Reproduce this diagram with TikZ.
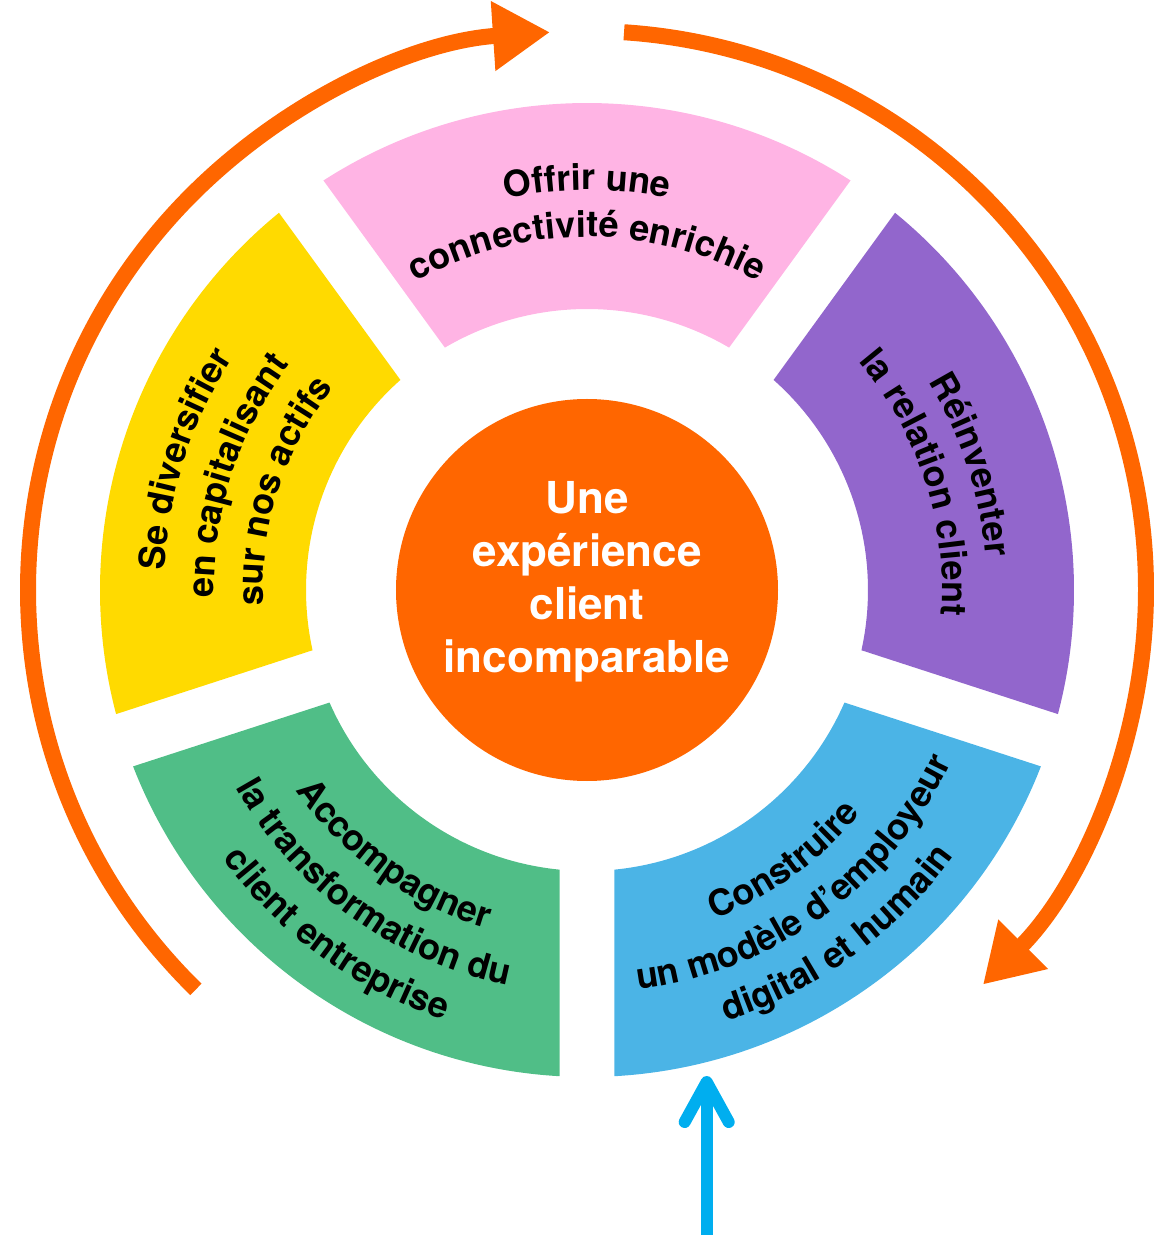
\documentclass[tikz,border=0pt]{standalone}
\usepackage{fontspec}
\setmainfont{TeX Gyre Heros}
\definecolor{brandorange}{RGB}{255,102,0}
\definecolor{segpink}{RGB}{255,180,228}
\definecolor{segpurple}{RGB}{146,102,204}
\definecolor{segblue}{RGB}{75,180,230}
\definecolor{seggreen}{RGB}{80,190,135}
\definecolor{segyellow}{RGB}{255,218,0}
\definecolor{entrycyan}{RGB}{0,174,239}
\usetikzlibrary{arrows.meta,decorations.text}
\newcommand{\segfont}{\fontsize{18}{21}\selectfont\bfseries}

\begin{document}
\begin{tikzpicture}[x=0.5pt, y=0.5pt,
    arctext/.style={decorate, decoration={text along path, text align=center, text={|\segfont|#1}}},
    cycle arrow/.style={draw=brandorange, line width=8pt, -{Triangle[length=28.5pt, width=33pt]}},
    entry arrow/.style={draw=entrycyan, line width=6pt, -{Straight Barb[length=20pt, width=22pt, round]}}]
    \useasboundingbox (-587,-645) rectangle (566,590);
    \pgfmathsetmacro\Ro{487}
    \pgfmathsetmacro\Ri{281}
    \pgfmathsetmacro\dR{asin(27.5/\Ro)}
    \pgfmathsetmacro\dr{asin(27.5/\Ri)}

    % five segments of the ring
    \foreach \c/\col in {90/segpink, 18/segpurple, 306/segblue, 234/seggreen, 162/segyellow}{
        \fill[\col] ({\c+36-\dR}:\Ro) arc[start angle=\c+36-\dR, end angle=\c-36+\dR, radius=\Ro]
            -- ({\c-36+\dr}:\Ri) arc[start angle=\c-36+\dr, end angle=\c+36-\dr, radius=\Ri] -- cycle;
    }

    % centre
    \node[circle, fill=brandorange, minimum size=191pt, inner sep=0pt] (core) at (0,0) {};
    \node[text=white, align=center, font=\fontsize{22}{26.5}\selectfont\bfseries, yshift=4pt]
        (corelabel) at (core.center) {Une\\expérience\\client\\incomparable};

    % texts on the ring
    \path[arctext={Offrir une}] (150:400) arc[start angle=150, end angle=30, radius=400];
    \path[arctext={connectivité enrichie}] (150:353) arc[start angle=150, end angle=30, radius=353];
    \path[arctext={Réinventer}] (78:400) arc[start angle=78, end angle=-42, radius=400];
    \path[arctext={la relation client}] (78:355) arc[start angle=78, end angle=-42, radius=355];
    \path[arctext={Se diversifier}] (222:423) arc[start angle=222, end angle=102, radius=423];
    \path[arctext={en capitalisant}] (222:373) arc[start angle=222, end angle=102, radius=373];
    \path[arctext={sur nos actifs}] (222:324) arc[start angle=222, end angle=102, radius=324];
    \path[arctext={Accompagner}] (174:353) arc[start angle=174, end angle=294, radius=353];
    \path[arctext={la transformation du}] (174:403) arc[start angle=174, end angle=294, radius=403];
    \path[arctext={client entreprise}] (174:453) arc[start angle=174, end angle=294, radius=453];
    \path[arctext={Construire}] (246:353) arc[start angle=246, end angle=366, radius=353];
    \path[arctext={un modèle d’employeur}] (246:403) arc[start angle=246, end angle=366, radius=403];
    \path[arctext={digital et humain}] (246:453) arc[start angle=246, end angle=366, radius=453];

    % outer cycle
    \draw[cycle arrow] (225.6:559) arc[start angle=225.6, end angle=93.8, radius=559];
    \draw[cycle arrow] (86.2:559) arc[start angle=86.2, end angle=-44.9, radius=559];

    % entry
    \coordinate (entry) at (119.7,-645);
    \coordinate (entrytip) at (119.7,-486);
    \draw[entry arrow] (entry) -- (entrytip);
\end{tikzpicture}
\end{document}
